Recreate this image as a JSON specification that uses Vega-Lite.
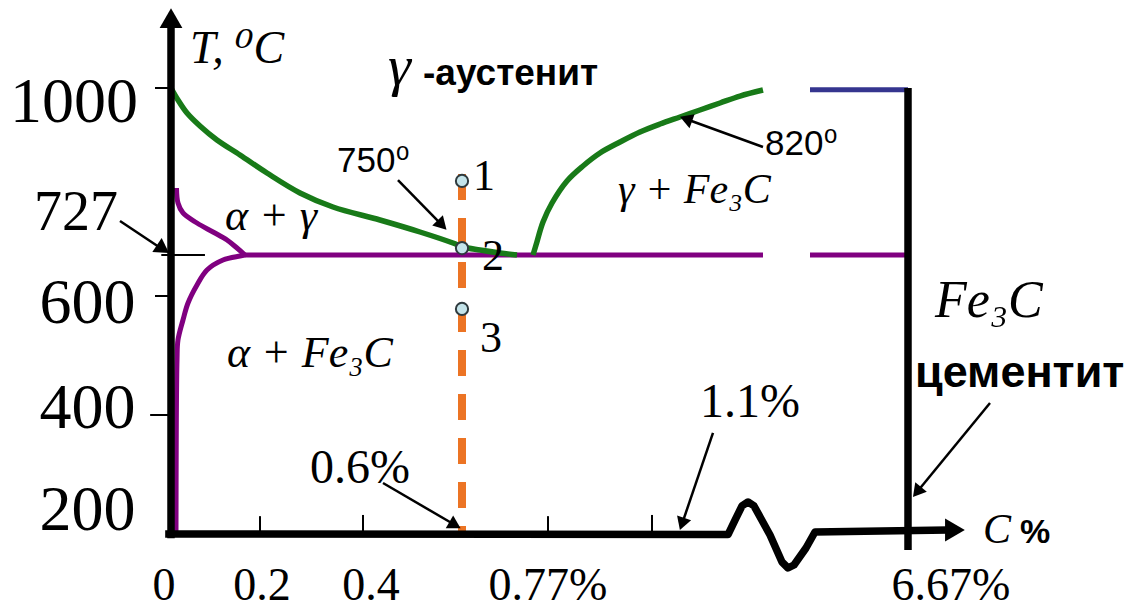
{
  "$schema": "https://vega.github.io/schema/vega-lite/v6.json",
  "width": 1136,
  "height": 611,
  "autosize": "none",
  "padding": 0,
  "background": "white",
  "config": {"view": {"stroke": null}},
  "encoding": {
    "x": {"field": "C", "type": "quantitative", "scale": {"domain": [0, 1.25, 6, 6.67], "range": [171, 777.25, 810, 908], "nice": false, "zero": false}, "axis": null},
    "y": {"field": "T", "type": "quantitative", "scale": {"domain": [200, 600, 727, 1000], "range": [534, 296, 255, 88], "nice": false, "zero": false}, "axis": null}
  },
  "layer": [
    {
      "data": {"values": [{"C": 0.6, "T": 859.4}, {"C": 0.6, "T": 200}]},
      "mark": {"type": "line", "color": "#ec7424", "strokeWidth": 8, "strokeDash": [26, 18], "strokeCap": "butt"},
      "encoding": {"order": {"value": null}}
    },
    {
      "data": {"values": [
        {"id": "eut1", "C": 0.1526, "T": 727}, {"id": "eut1", "C": 1.2206, "T": 727},
        {"id": "eut2", "C": 6.0, "T": 727}, {"id": "eut2", "C": 6.67, "T": 727},
        {"id": "up", "C": 0.0113, "T": 836.5}, {"id": "up", "C": 0.0144, "T": 812.0}, {"id": "up", "C": 0.0247, "T": 795.7}, {"id": "up", "C": 0.0536, "T": 779.3}, {"id": "up", "C": 0.0866, "T": 764.6}, {"id": "up", "C": 0.1155, "T": 751.5}, {"id": "up", "C": 0.1361, "T": 738.4}, {"id": "up", "C": 0.1526, "T": 727},
        {"id": "lo", "C": 0.1526, "T": 727}, {"id": "lo", "C": 0.1423, "T": 723.9}, {"id": "lo", "C": 0.1072, "T": 711.5}, {"id": "lo", "C": 0.0742, "T": 680.5}, {"id": "lo", "C": 0.0536, "T": 634.1}, {"id": "lo", "C": 0.0351, "T": 588.2}, {"id": "lo", "C": 0.0247, "T": 559.7}, {"id": "lo", "C": 0.0144, "T": 526.1}, {"id": "lo", "C": 0.0124, "T": 492.4}, {"id": "lo", "C": 0.0103, "T": 200}
      ]},
      "mark": {"type": "line", "color": "#800080", "strokeWidth": 5, "interpolate": "catmull-rom"},
      "encoding": {"detail": {"field": "id"}, "order": {"value": null}}
    },
    {
      "data": {"values": [
        {"id": "L", "C": 0, "T": 1000}, {"id": "L", "C": 0.0144, "T": 980.4}, {"id": "L", "C": 0.033, "T": 959.1}, {"id": "L", "C": 0.0598, "T": 937.9}, {"id": "L", "C": 0.0948, "T": 915.0}, {"id": "L", "C": 0.1423, "T": 890.5}, {"id": "L", "C": 0.1979, "T": 861.0}, {"id": "L", "C": 0.266, "T": 828.4}, {"id": "L", "C": 0.334, "T": 805.5}, {"id": "L", "C": 0.4309, "T": 784.2}, {"id": "L", "C": 0.5134, "T": 764.6}, {"id": "L", "C": 0.5814, "T": 746.6}, {"id": "L", "C": 0.6021, "T": 740.1}, {"id": "L", "C": 0.6371, "T": 735.2}, {"id": "L", "C": 0.6784, "T": 730.3}, {"id": "L", "C": 0.7134, "T": 727},
        {"id": "R", "C": 0.7464, "T": 727}, {"id": "R", "C": 0.7526, "T": 743.3}, {"id": "R", "C": 0.767, "T": 780.9}, {"id": "R", "C": 0.7856, "T": 812.0}, {"id": "R", "C": 0.8165, "T": 848.0}, {"id": "R", "C": 0.8495, "T": 872.5}, {"id": "R", "C": 0.8845, "T": 893.7}, {"id": "R", "C": 0.9258, "T": 911.7}, {"id": "R", "C": 0.967, "T": 928.1}, {"id": "R", "C": 1.0082, "T": 941.1}, {"id": "R", "C": 1.0495, "T": 952.6}, {"id": "R", "C": 1.0907, "T": 964.0}, {"id": "R", "C": 1.132, "T": 975.5}, {"id": "R", "C": 1.1732, "T": 986.9}, {"id": "R", "C": 1.2206, "T": 996.7}
      ]},
      "mark": {"type": "line", "color": "#187a18", "strokeWidth": 5.5, "interpolate": "catmull-rom"},
      "encoding": {"detail": {"field": "id"}, "order": {"value": null}}
    },
    {
      "data": {"values": [{"C": 6.0, "T": 997}, {"C": 6.67, "T": 997}]},
      "mark": {"type": "line", "color": "#35358f", "strokeWidth": 5},
      "encoding": {"order": {"value": null}}
    },
    {
      "data": {"values": [
        {"id": "yaxis", "C": 0, "T": 193}, {"id": "yaxis", "C": 0, "T": 1098},
        {"id": "xaxis", "C": -0.012, "T": 200}, {"id": "xaxis", "C": 1.1485, "T": 199}, {"id": "xaxis", "C": 1.1629, "T": 223.5}, {"id": "xaxis", "C": 1.1773, "T": 247.1}, {"id": "xaxis", "C": 1.1897, "T": 253.8}, {"id": "xaxis", "C": 1.2021, "T": 247.1}, {"id": "xaxis", "C": 1.2351, "T": 198.3}, {"id": "xaxis", "C": 1.939, "T": 152.9}, {"id": "xaxis", "C": 2.809, "T": 142.9}, {"id": "xaxis", "C": 3.679, "T": 147.9}, {"id": "xaxis", "C": 5.42, "T": 176.5}, {"id": "xaxis", "C": 6.034, "T": 203.4}, {"id": "xaxis", "C": 6.943, "T": 206.7},
        {"id": "fe3c", "C": 6.67, "T": 1000}, {"id": "fe3c", "C": 6.67, "T": 173}
      ]},
      "mark": {"type": "line", "color": "black", "strokeWidth": 7.5, "strokeJoin": "round"},
      "encoding": {"detail": {"field": "id"}, "order": {"value": null}}
    },
    {
      "data": {"values": [
        {"C": -0.033, "C2": 0, "T": 1000, "T2": 1000},
        {"C": -0.02, "C2": 0.07, "T": 727, "T2": 727},
        {"C": -0.033, "C2": 0, "T": 600, "T2": 600},
        {"C": -0.043, "C2": 0, "T": 400, "T2": 400},
        {"C": 0.1835, "C2": 0.1835, "T": 205, "T2": 230},
        {"C": 0.3959, "C2": 0.3959, "T": 205, "T2": 232},
        {"C": 0.7773, "C2": 0.7773, "T": 205, "T2": 230},
        {"C": 0.9918, "C2": 0.9918, "T": 205, "T2": 232}
      ]},
      "mark": {"type": "rule", "color": "black", "strokeWidth": 2},
      "encoding": {"x2": {"field": "C2"}, "y2": {"field": "T2"}}
    },
    {
      "data": {"values": [
        {"C": -0.1052, "T": 782.6, "C2": -0.0186, "T2": 736.8},
        {"C": 0.468, "T": 849.6, "C2": 0.5588, "T2": 776.0},
        {"C": 1.2206, "T": 903.5, "C2": 1.0619, "T2": 949.3},
        {"C": 0.4371, "T": 285.7, "C2": 0.5856, "T2": 215.1},
        {"C": 1.1175, "T": 369.8, "C2": 1.0536, "T2": 216.8},
        {"C": 7.2306, "T": 420.2, "C2": 6.7315, "T2": 270.6}
      ]},
      "mark": {"type": "rule", "color": "black", "strokeWidth": 2.5},
      "encoding": {"x2": {"field": "C2"}, "y2": {"field": "T2"}}
    },
    {"data": {"values": [{"C": -0.0165, "T": 736.8}]}, "mark": {"type": "point", "shape": "triangle-up", "filled": true, "color": "black", "opacity": 1, "size": 280, "angle": 124}},
    {"data": {"values": [{"C": 0.5588, "T": 776.0}]}, "mark": {"type": "point", "shape": "triangle-up", "filled": true, "color": "black", "opacity": 1, "size": 220, "angle": 136}},
    {"data": {"values": [{"C": 1.0619, "T": 949.3}]}, "mark": {"type": "point", "shape": "triangle-up", "filled": true, "color": "black", "opacity": 1, "size": 220, "angle": 290}},
    {"data": {"values": [{"C": 0.5856, "T": 215.1}]}, "mark": {"type": "point", "shape": "triangle-up", "filled": true, "color": "black", "opacity": 1, "size": 220, "angle": 120}},
    {"data": {"values": [{"C": 1.0536, "T": 216.8}]}, "mark": {"type": "point", "shape": "triangle-up", "filled": true, "color": "black", "opacity": 1, "size": 220, "angle": 199}},
    {"data": {"values": [{"C": 6.7315, "T": 270.6}]}, "mark": {"type": "point", "shape": "triangle-up", "filled": true, "color": "black", "opacity": 1, "size": 220, "angle": 219}},
    {"data": {"values": [{"C": 0, "T": 1114.4}]}, "mark": {"type": "point", "shape": "triangle-up", "filled": true, "color": "black", "opacity": 1, "size": 520, "angle": 0}},
    {"data": {"values": [{"C": 6.991, "T": 206.7}]}, "mark": {"type": "point", "shape": "triangle-up", "filled": true, "color": "black", "opacity": 1, "size": 520, "angle": 90}},
    {
      "data": {"values": [{"C": 0.6, "T": 848.0}, {"C": 0.6, "T": 738.4}, {"C": 0.6, "T": 578.2}]},
      "mark": {"type": "point", "shape": "circle", "filled": true, "fill": "#c4e4ea", "stroke": "#2f3b3f", "strokeWidth": 2, "opacity": 1, "size": 150}
    },
    {
      "data": {"values": [{"label": "1000", "C": -0.068, "T": 944.4}, {"label": "600", "C": -0.0732, "T": 554.6}, {"label": "400", "C": -0.0732, "T": 378.2}, {"label": "200", "C": -0.0732, "T": 206.7}]},
      "mark": {"type": "text", "font": "Liberation Serif", "fontSize": 64, "align": "right", "baseline": "alphabetic", "color": "black"},
      "encoding": {"text": {"field": "label"}}
    },
    {
      "data": {"values": [{"label": "727", "C": -0.1093, "T": 767.9}]},
      "mark": {"type": "text", "font": "Liberation Serif", "fontSize": 56, "align": "right", "baseline": "alphabetic", "color": "black"},
      "encoding": {"text": {"field": "label"}}
    },
    {
      "data": {"values": [{"label": "0", "C": -0.0144, "T": 89.1}, {"label": "0.2", "C": 0.1876, "T": 89.1}, {"label": "0.4", "C": 0.4124, "T": 89.1}, {"label": "0.77%", "C": 0.7773, "T": 89.1}, {"label": "6.67%", "C": 6.964, "T": 89.1}]},
      "mark": {"type": "text", "font": "Liberation Serif", "fontSize": 46, "align": "center", "baseline": "alphabetic", "color": "black"},
      "encoding": {"text": {"field": "label"}}
    },
    {
      "data": {"values": [{"label": "0.6%", "C": 0.2866, "T": 285.7}, {"label": "1.1%", "C": 1.0907, "T": 396.6}]},
      "mark": {"type": "text", "font": "Liberation Serif", "fontSize": 48, "align": "left", "baseline": "alphabetic", "color": "black"},
      "encoding": {"text": {"field": "label"}}
    },
    {
      "data": {"values": [{"label": "1", "C": 0.6227, "T": 833.3}, {"label": "2", "C": 0.6412, "T": 680.5}, {"label": "3", "C": 0.6371, "T": 505.9}]},
      "mark": {"type": "text", "font": "Liberation Serif", "fontSize": 44, "align": "left", "baseline": "alphabetic", "color": "black"},
      "encoding": {"text": {"field": "label"}}
    },
    {
      "data": {"values": [{"label": "T, ⁰C", "C": 0.0392, "T": 1040.9}]},
      "mark": {"type": "text", "font": "Liberation Serif, DejaVu Serif", "fontStyle": "italic", "fontSize": 46, "align": "left", "baseline": "alphabetic", "color": "black"},
      "encoding": {"text": {"field": "label"}}
    },
    {
      "data": {"values": [{"label": "α + γ", "C": 0.1113, "T": 767.9}, {"label": "α + Fe₃C", "C": 0.1155, "T": 480.7}]},
      "mark": {"type": "text", "font": "Liberation Serif, DejaVu Serif", "fontStyle": "italic", "fontSize": 44, "align": "left", "baseline": "alphabetic", "color": "black"},
      "encoding": {"text": {"field": "label"}}
    },
    {
      "data": {"values": [{"label": "γ + Fe₃C", "C": 0.9216, "T": 812}, {"label": "C", "C": 7.1827, "T": 184.9}]},
      "mark": {"type": "text", "font": "Liberation Serif, DejaVu Serif", "fontStyle": "italic", "fontSize": 42, "align": "left", "baseline": "alphabetic", "color": "black"},
      "encoding": {"text": {"field": "label"}}
    },
    {
      "data": {"values": [{"label": "Fe₃C", "C": 6.855, "T": 564.7}]},
      "mark": {"type": "text", "font": "Liberation Serif, DejaVu Serif", "fontStyle": "italic", "fontSize": 52, "align": "left", "baseline": "alphabetic", "color": "black"},
      "encoding": {"text": {"field": "label"}}
    },
    {
      "data": {"values": [{"label": "γ", "C": 0.4474, "T": 1004.9}]},
      "mark": {"type": "text", "font": "Liberation Serif, DejaVu Serif", "fontStyle": "italic", "fontSize": 58, "align": "left", "baseline": "alphabetic", "color": "black"},
      "encoding": {"text": {"field": "label"}}
    },
    {
      "data": {"values": [{"label": "-аустенит", "C": 0.5196, "T": 1004.9}]},
      "mark": {"type": "text", "font": "Liberation Sans", "fontWeight": "bold", "fontSize": 37, "align": "left", "baseline": "alphabetic", "color": "black"},
      "encoding": {"text": {"field": "label"}}
    },
    {
      "data": {"values": [{"label": "цементит", "C": 6.718, "T": 447.1}]},
      "mark": {"type": "text", "font": "Liberation Sans", "fontWeight": "bold", "fontSize": 45, "align": "left", "baseline": "alphabetic", "color": "black"},
      "encoding": {"text": {"field": "label"}}
    },
    {
      "data": {"values": [{"label": "%", "C": 7.4357, "T": 184.9}]},
      "mark": {"type": "text", "font": "Liberation Sans", "fontWeight": "bold", "fontSize": 34, "align": "left", "baseline": "alphabetic", "color": "black"},
      "encoding": {"text": {"field": "label"}}
    },
    {
      "data": {"values": [{"label": "750⁰", "C": 0.3423, "T": 862.7}, {"label": "820⁰", "C": 1.2247, "T": 890.5}]},
      "mark": {"type": "text", "font": "Liberation Sans, DejaVu Sans", "fontSize": 35, "align": "left", "baseline": "alphabetic", "color": "black"},
      "encoding": {"text": {"field": "label"}}
    }
  ]
}
